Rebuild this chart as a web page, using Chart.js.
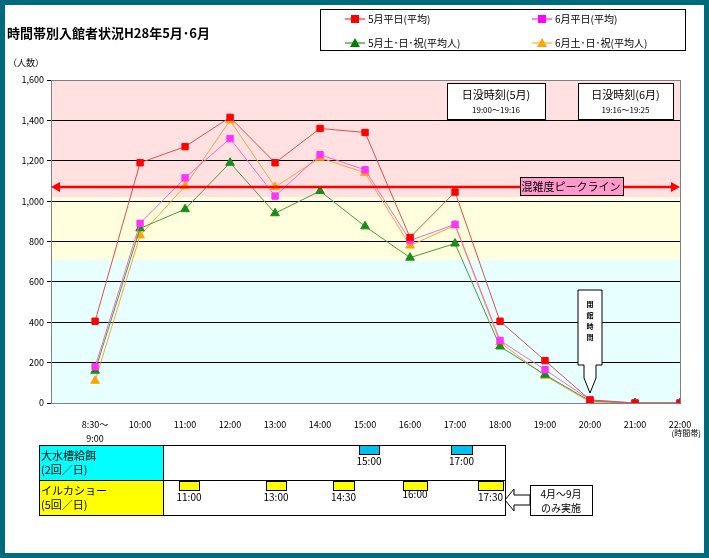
<!DOCTYPE html>
<html><head><meta charset="utf-8">
<script src="https://cdn.jsdelivr.net/npm/chart.js@4/dist/chart.umd.min.js"></script>
<style>html,body{margin:0;padding:0;background:#fff}#w{width:709px;height:558px;position:relative}</style>
</head><body><div id="w"><canvas id="c" width="709" height="558"></canvas></div>
<script>
const categories = [['8:30～','9:00'],'10:00','11:00','12:00','13:00','14:00','15:00','16:00','17:00','18:00','19:00','20:00','21:00','22:00'];
const may_weekday = [405,1190,1270,1415,1190,1360,1340,820,1045,405,210,15,0,0];
const jun_weekday = [180,890,1115,1310,1025,1230,1155,805,885,310,165,15,0,0];
const may_weekend = [160,865,960,1190,940,1050,875,720,790,280,140,10,0,0];
const jun_weekend = [110,830,1075,1400,1070,1215,1140,780,880,300,135,5,0,0];
const yTicks = [0,200,400,600,800,1000,1200,1400,1600];
const peakLine = 1070;
const bands = [[1020,1600,'#ffe1e1'],[710,1020,'#ffffdd'],[0,710,'#e8ffff']];

const F = '"Noto Sans CJK JP", sans-serif';
function pts(a){return a.map((v,i)=>({x:i,y:v}));}
function ds(label,data,color,line,shape){return {label,data:pts(data),borderColor:line,backgroundColor:color,pointBackgroundColor:color,pointBorderColor:color,pointStyle:shape,pointRadius:shape==='triangle'?5:4.5,borderWidth:1,tension:0};}

const deco = {
 id:'deco',
 beforeDraw(ch){
  const {ctx,chartArea:a,scales:{x,y}}=ch;
  ctx.save();
  ctx.fillStyle='#fff';ctx.fillRect(0,0,709,558);
  bands.forEach(b=>{ctx.fillStyle=b[2];const t=y.getPixelForValue(b[1]),bt=y.getPixelForValue(b[0]);ctx.fillRect(a.left,t,a.right-a.left,bt-t);});
  ctx.restore();
 },
 afterDatasetsDraw(ch){
  const {ctx,chartArea:a,scales:{x,y}}=ch;
  ctx.save();
  ctx.strokeStyle='#808080';ctx.lineWidth=1;ctx.strokeRect(a.left+0.5,a.top+0.5,a.right-a.left,a.bottom-a.top);
  const py=y.getPixelForValue(peakLine);
  ctx.strokeStyle='#ff0000';ctx.fillStyle='#ff0000';ctx.lineWidth=2.5;
  ctx.beginPath();ctx.moveTo(a.left+6,py);ctx.lineTo(a.right-6,py);ctx.stroke();
  ctx.beginPath();ctx.moveTo(a.left,py);ctx.lineTo(a.left+9,py-5);ctx.lineTo(a.left+9,py+5);ctx.fill();
  ctx.beginPath();ctx.moveTo(a.right,py);ctx.lineTo(a.right-9,py-5);ctx.lineTo(a.right-9,py+5);ctx.fill();
  ctx.fillStyle='#ff99cc';ctx.fillRect(520,177,103,18);ctx.strokeStyle='#000';ctx.lineWidth=1;ctx.strokeRect(520.5,177.5,103,18);
  ctx.fillStyle='#000';ctx.font='11px '+F;ctx.textAlign='center';ctx.textBaseline='middle';ctx.fillText('混雑度ピークライン',571,187);
  function box(x0,y0,w,h,t1,t2){ctx.fillStyle='#fff';ctx.fillRect(x0,y0,w,h);ctx.strokeStyle='#000';ctx.strokeRect(x0+.5,y0+.5,w,h);ctx.fillStyle='#000';ctx.font='11px '+F;ctx.fillText(t1,x0+w/2,y0+12);ctx.font='8px '+F;ctx.fillText(t2,x0+w/2,y0+27);}
  box(447,83,98,36,'日没時刻(5月)','19:00～19:16');
  box(578,83,95,36,'日没時刻(6月)','19:16～19:25');
  const cx=x.getPixelForValue(11);
  ctx.fillStyle='#fff';ctx.strokeStyle='#000';
  ctx.beginPath();ctx.moveTo(cx-12,290);ctx.lineTo(cx+12,290);ctx.lineTo(cx+12,365);ctx.lineTo(cx+6,365);ctx.lineTo(cx+6,378);ctx.lineTo(cx,393);ctx.lineTo(cx-6,378);ctx.lineTo(cx-6,365);ctx.lineTo(cx-12,365);ctx.closePath();ctx.fill();ctx.stroke();
  ctx.fillStyle='#000';ctx.font='bold 7px '+F;['閉','館','時','間'].forEach((c,i)=>ctx.fillText(c,cx,304+i*11));
  ctx.textAlign='left';ctx.font='bold 13px '+F;ctx.fillText('時間帯別入館者状況H28年5月･6月',7,33);
  ctx.font='9px '+F;ctx.fillText('（人数）',8,63);
  ctx.strokeStyle='#000';ctx.strokeRect(320.5,9.5,365,41);
  const leg=[['5月平日(平均)','#ff0000','#ff0000','rect',345,19],['6月平日(平均)','#ff00ff','#ff00ff','rect',532,19],['5月土･日･祝(平均人)','#008000','#008000','tri',345,43],['6月土･日･祝(平均人)','#ffa500','#ffa500','tri',532,43]];
  leg.forEach(l=>{ctx.strokeStyle=l[2];ctx.beginPath();ctx.moveTo(l[4],l[5]);ctx.lineTo(l[4]+20,l[5]);ctx.stroke();ctx.fillStyle=l[1];
   if(l[3]==='rect')ctx.fillRect(l[4]+6,l[5]-4,8,8);else{ctx.beginPath();ctx.moveTo(l[4]+10,l[5]-5);ctx.lineTo(l[4]+15,l[5]+4);ctx.lineTo(l[4]+5,l[5]+4);ctx.fill();}
   ctx.fillStyle='#000';ctx.font='10px '+F;ctx.fillText(l[0],l[4]+23,l[5]);});
  ctx.textAlign='right';ctx.font='8px '+F;ctx.fillText('(時間帯)',701,433);
  ctx.textAlign='left';
  ctx.fillStyle='#00ffff';ctx.fillRect(39,445,124,35);ctx.fillStyle='#ffff00';ctx.fillRect(39,480,124,35);
  ctx.strokeStyle='#000';ctx.lineWidth=1;ctx.strokeRect(39.5,445.5,466,70);
  ctx.beginPath();ctx.moveTo(39,480.5);ctx.lineTo(505,480.5);ctx.moveTo(163.5,445);ctx.lineTo(163.5,515);ctx.stroke();
  ctx.fillStyle='#000';ctx.font='11px '+F;
  ctx.fillText('大水槽給餌',41,456);ctx.fillText('(2回／日)',41,470);ctx.fillText('イルカショー',41,491);ctx.fillText('(5回／日)',41,505);
  ctx.textAlign='center';ctx.font='10px '+F;
  [[359,20,'15:00'],[451,21,'17:00']].forEach(m=>{ctx.fillStyle='#00c0f0';ctx.fillRect(m[0],445,m[1],9);ctx.strokeRect(m[0]+.5,445.5,m[1],9);ctx.fillStyle='#000';ctx.fillText(m[2],m[0]+m[1]/2,461);});
  [[179,20,'11:00'],[266,20,'13:00'],[333,21,'14:30'],[403,24,'16:00'],[478,25,'17:30']].forEach((m,i)=>{ctx.fillStyle='#ffff00';ctx.fillRect(m[0],481,m[1],9);ctx.strokeRect(m[0]+.5,481.5,m[1],9);ctx.fillStyle='#000';ctx.fillText(m[2],m[0]+m[1]/2,i==3?494:497);});
  ctx.fillStyle='#fff';ctx.strokeRect(530.5,485.5,62,30);ctx.fillRect(531,486,61,29);
  ctx.fillStyle='#000';ctx.fillText('4月～9月',561,494);ctx.fillText('のみ実施',561,508);
  ctx.fillStyle='#fff';ctx.beginPath();ctx.moveTo(505,500);ctx.lineTo(514,489);ctx.lineTo(514,495);ctx.lineTo(530,495);ctx.lineTo(530,505);ctx.lineTo(514,505);ctx.lineTo(514,511);ctx.closePath();ctx.fill();ctx.stroke();
  ctx.strokeStyle='#006b7d';ctx.lineWidth=5;ctx.strokeRect(2.5,2.5,704,553);
  ctx.restore();
 }
};

new Chart(document.getElementById('c'),{
 type:'line',
 data:{datasets:[
  ds('5月平日(平均)',may_weekday,'#ff0000','#e05050','rect'),
  ds('6月平日(平均)',jun_weekday,'#ff33ff','#ff66cc','rect'),
  ds('5月土･日･祝(平均人)',may_weekend,'#1a8c1a','#40a040','triangle'),
  ds('6月土･日･祝(平均人)',jun_weekend,'#ffa500','#ffa040','triangle')]},
 options:{responsive:false,animation:false,devicePixelRatio:1,
  layout:{padding:{left:0,right:29,top:80,bottom:115}},
  plugins:{legend:{display:false},tooltip:{enabled:false}},
  scales:{
   x:{type:'linear',min:-0.98,max:13,afterBuildTicks:s=>{s.ticks=categories.map((c,i)=>({value:i}));},
      afterFit:s=>{s.height=40;},grid:{display:false},border:{display:false},
      ticks:{autoSkip:false,maxRotation:0,color:'#000',padding:6,font:{size:9,family:F,lineHeight:1.6},callback:v=>categories[v]}},
   y:{min:0,max:1600,afterBuildTicks:s=>{s.ticks=yTicks.map(v=>({value:v}));},afterFit:s=>{s.width=51;},
      grid:{color:'#000',lineWidth:1,drawTicks:true,tickLength:4},border:{color:'#808080'},
      ticks:{color:'#000',font:{size:9,family:F},callback:v=>v.toLocaleString('en-US')}}
  }},
 plugins:[deco]
});
</script></body></html>
